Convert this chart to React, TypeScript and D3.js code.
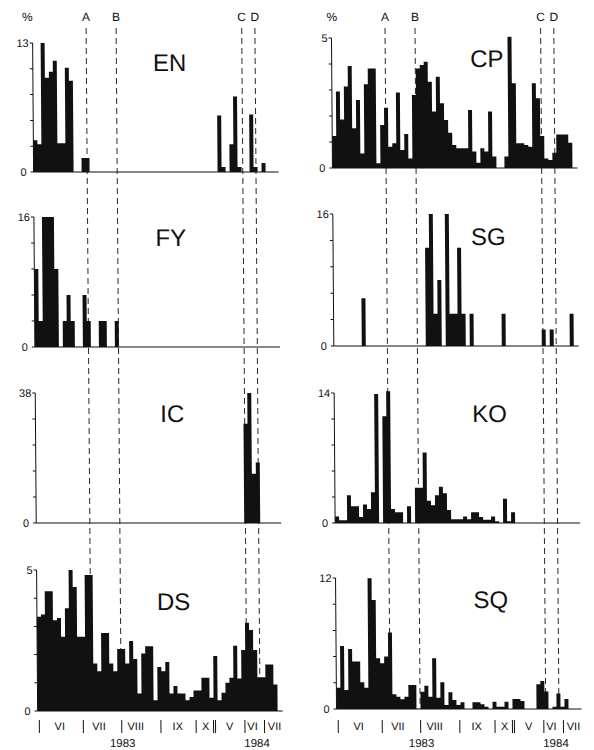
import React from 'react';
import * as d3 from 'd3';

const W = 594;
const H = 750;

// % per sampling interval (60 intervals, Jun 1983 - Jul 1984)
const EN_VALUES = [
  3.2, 2.8, 13, 9.5, 10.1, 11.2, 2.9, 2.9, 10.5, 9.2,
  0, 0, 1.4, 1.4, 0, 0, 0, 0, 0, 0,
  0, 0, 0, 0, 0, 0, 0, 0, 0, 0,
  0, 0, 0, 0, 0, 0, 0, 0, 0, 0,
  0, 0, 0, 0, 0, 0, 5.7, 0.5, 0, 2.8,
  7.6, 0.5, 0, 0, 5.8, 0.5, 0, 0.9, 0, 0,
];
const FY_VALUES = [
  9.6, 3.2, 16, 16, 16, 9.6, 0, 3.2, 6.4, 3.2,
  0, 0, 6.4, 3.2, 0, 0, 3.2, 3.2, 0, 0,
  3.2, 0, 0, 0, 0, 0, 0, 0, 0, 0,
  0, 0, 0, 0, 0, 0, 0, 0, 0, 0,
  0, 0, 0, 0, 0, 0, 0, 0, 0, 0,
  0, 0, 0, 0, 0, 0, 0, 0, 0, 0,
];
const IC_VALUES = [
  0, 0, 0, 0, 0, 0, 0, 0, 0, 0,
  0, 0, 0, 0, 0, 0, 0, 0, 0, 0,
  0, 0, 0, 0, 0, 0, 0, 0, 0, 0,
  0, 0, 0, 0, 0, 0, 0, 0, 0, 0,
  0, 0, 0, 0, 0, 0, 0, 0, 0, 0,
  0, 0, 29, 38, 14.4, 17.7, 0, 0, 0, 0,
];
const DS_VALUES = [
  3.34, 3.42, 4.25, 4.25, 3.22, 3.3, 2.63, 3.64, 5.0, 4.4,
  2.63, 2.63, 4.82, 4.82, 1.68, 1.41, 2.77, 2.77, 1.68, 1.41,
  2.2, 2.2, 1.68, 2.48, 1.84, 0.62, 2.04, 2.3, 2.3, 0.38,
  1.56, 1.41, 1.74, 0.62, 0.89, 0.62, 0.62, 0.38, 0.5, 0.73,
  0.73, 1.18, 1.18, 0.47, 1.95, 0.38, 0.65, 1.0, 1.18, 2.31,
  1.15, 2.16, 3.13, 2.87, 2.16, 1.2, 1.2, 1.65, 1.65, 0.94,
];
const CP_VALUES = [
  1.23, 2.94, 1.87, 3.13, 3.92, 1.53, 2.62, 0.56, 3.22, 3.83,
  3.83, 0.18, 1.65, 2.32, 0.82, 0.95, 2.9, 0.69, 1.31, 0.37,
  2.81, 3.83, 3.96, 4.09, 3.32, 2.17, 3.51, 2.49, 1.85, 1.36,
  0.88, 0.76, 0.76, 0.76, 2.23, 0.63, 0.2, 0.76, 0.63, 2.17,
  0.44, 0, 0, 0.44, 5.05, 3.26, 0.95, 0.95, 0.88, 0.82,
  3.26, 2.68, 1.23, 0.37, 0.31, 0.59, 1.29, 1.29, 1.29, 0.97,
];
const SG_VALUES = [
  0, 0, 0, 0, 0, 0, 0, 5.8, 0, 0,
  0, 0, 0, 0, 0, 0, 0, 0, 0, 0,
  0, 0, 0, 11.9, 16, 3.9, 8, 0, 16, 3.9,
  3.9, 11.9, 3.9, 0, 3.9, 0, 0, 0, 0, 0,
  0, 0, 3.9, 0, 0, 0, 0, 0, 0, 0,
  0, 0, 2.0, 0, 2.0, 0, 0, 0, 0, 3.9,
];
const KO_VALUES = [
  0.7, 0.3, 0.3, 3.0, 1.8, 1.8, 0.65, 2.0, 1.5, 3.3,
  13.9, 0, 11.5, 14.2, 1.5, 1.15, 1.15, 0, 1.8, 0,
  3.8, 3.8, 7.6, 2.4, 1.9, 3.0, 3.9, 3.2, 1.4, 0.4,
  0.4, 0.4, 0.7, 0.4, 1.15, 1.15, 0.65, 0.36, 0.36, 0.7,
  0.2, 0, 2.6, 0.2, 1.15, 0, 0, 0, 0, 0,
  0, 0, 0, 0, 0, 0, 0, 0, 0, 0,
];
const SQ_VALUES = [
  1.95, 5.77, 1.74, 5.5, 4.34, 4.34, 2.44, 1.95, 11.97, 9.98,
  4.64, 4.18, 4.8, 7.0, 1.34, 1.13, 0.89, 1.13, 2.2, 2.2,
  0, 1.59, 2.14, 1.13, 4.64, 1.04, 2.44, 0.37, 1.53, 0.82,
  0.37, 0.61, 0, 0, 0.61, 0.61, 0.43, 0.2, 0, 0.67,
  0.2, 0.2, 0.67, 0, 0.92, 0.92, 0.73, 0, 0, 0,
  2.26, 2.56, 1.6, 0, 0.2, 1.43, 0.2, 0.92, 0, 0,
];

const LEFT_NAMES = ['EN', 'FY', 'IC', 'DS'];
const RIGHT_NAMES = ['CP', 'SG', 'KO', 'SQ'];
const LEFT_MAX = [13, 16, 38, 5];
const RIGHT_MAX = [5, 16, 14, 12];

const EVENT_LABELS = ['A', 'B', 'C', 'D'];
const EVENT_POS = [13.4, 20.9, 52.3, 55.6];

const MONTH_LABELS = ['VI', 'VII', 'VIII', 'IX', 'X', 'V', 'VI', 'VII'];
const MONTH_LABEL_POS = [5.5, 15.3, 24.5, 35, 42, 48, 53.7, 59.2];
const MONTH_BOUNDS = [0.4, 11.4, 21, 30.8, 39.6, 51.8, 56.7];
const SEASON_BREAK = 44.2;
const YEAR_LABELS = ['1983', '1984'];
const YEAR_POS = [21.2, 54.8];

// layout
const N_BINS = 60;
const BIN_W = 4;
const SKEW = 0.0075; // the scanned figure leans slightly
const INK = '#111';
const COLS = [
  { x0: 32.3, rows: [[43, 172], [217, 347], [393, 523], [570, 711]], nameBin: 34.2, pctDx: -5 },
  { x0: 331.2, rows: [[38, 168], [214, 346], [393, 523], [578, 709]], nameBin: 38.8, pctDx: 0.5 },
];

function Panel({ x, x0, name, values, yMax, yTop, yZero, nameBin }: any) {
  const y = d3.scaleLinear().domain([0, yMax]).range([yZero, yTop]);
  const area = d3.area<number>()
    .x((_, i) => x(i))
    .y0(y(0))
    .y1(d => y(d))
    .curve(d3.curveStepAfter);
  const path = area([...values, values[values.length - 1]]) || '';
  const ticks = d3.range(6).map(k => (yMax * k) / 5);

  return (
    <g>
      <line x1={x0} x2={x0 + 245} y1={yZero} y2={yZero} stroke={INK} strokeWidth={1} />
      <path d={path} fill={INK} />
      <line x1={x0} x2={x0} y1={yZero} y2={yTop} stroke={INK} strokeWidth={1} />
      {ticks.map((t, i) => (
        <line key={i} x1={x0 - 3} x2={x0} y1={y(t)} y2={y(t)} stroke={INK} strokeWidth={1} />
      ))}
      <text x={x0 - 4} y={y(yMax)} dy="0.35em" fontSize={11} textAnchor="end" fill={INK}>{yMax}</text>
      <text x={x0 - 7} y={y(0)} dy="0.35em" fontSize={11} textAnchor="end" fill={INK}>0</text>
      <text x={x(nameBin)} y={yZero - 110} dy="0.36em" fontSize={24} textAnchor="middle" fill={INK}>{name}</text>
    </g>
  );
}

function Column({ layout, names, maxes, series }: any) {
  const { x0, rows, nameBin, pctDx } = layout;
  const x = d3.scaleLinear().domain([0, N_BINS]).range([x0, x0 + N_BINS * BIN_W]);
  const bottom = rows[rows.length - 1][1];

  return (
    <g>
      {EVENT_POS.map((p, i) => (
        <g key={EVENT_LABELS[i]}>
          <line x1={x(p)} x2={x(p)} y1={28} y2={bottom} stroke={INK} strokeWidth={0.9} strokeDasharray="6,4" />
          <text x={x(p)} y={21} fontSize={12} textAnchor="middle" fill={INK}>{EVENT_LABELS[i]}</text>
        </g>
      ))}
      <text x={x0 + pctDx} y={21} fontSize={12} textAnchor="middle" fill={INK}>%</text>
      {rows.map((r: number[], i: number) => (
        <Panel key={names[i]} x={x} x0={x0} name={names[i]} values={series[i]}
          yMax={maxes[i]} yTop={r[0]} yZero={r[1]} nameBin={nameBin} />
      ))}
      {MONTH_BOUNDS.map((b, i) => (
        <line key={i} x1={x(b)} x2={x(b)} y1={720} y2={733} stroke={INK} strokeWidth={1} />
      ))}
      <line x1={x(SEASON_BREAK) - 1} x2={x(SEASON_BREAK) - 1} y1={720} y2={733} stroke={INK} strokeWidth={1} />
      <line x1={x(SEASON_BREAK) + 1} x2={x(SEASON_BREAK) + 1} y1={720} y2={733} stroke={INK} strokeWidth={1} />
      {MONTH_LABELS.map((m, i) => (
        <text key={i} x={x(MONTH_LABEL_POS[i])} y={730.5} fontSize={11} textAnchor="middle" fill={INK}>{m}</text>
      ))}
      {YEAR_LABELS.map((yl, i) => (
        <text key={yl} x={x(YEAR_POS[i])} y={747} fontSize={11.5} textAnchor="middle" fill={INK}>{yl}</text>
      ))}
    </g>
  );
}

export default function App() {
  const columns = [
    { names: LEFT_NAMES, maxes: LEFT_MAX, series: [EN_VALUES, FY_VALUES, IC_VALUES, DS_VALUES] },
    { names: RIGHT_NAMES, maxes: RIGHT_MAX, series: [CP_VALUES, SG_VALUES, KO_VALUES, SQ_VALUES] },
  ];
  return (
    <svg
      width={W}
      height={H}
      style={{ position: 'absolute', left: 0, top: 0, background: '#fff' }}
      fontFamily="'Liberation Sans', Arial, sans-serif"
    >
      <rect width={W} height={H} fill="#fff" />
      <g transform={`matrix(1,0,${SKEW},1,0,0)`}>
        {columns.map((c, i) => (
          <Column key={i} layout={COLS[i]} names={c.names} maxes={c.maxes} series={c.series} />
        ))}
      </g>
    </svg>
  );
}
